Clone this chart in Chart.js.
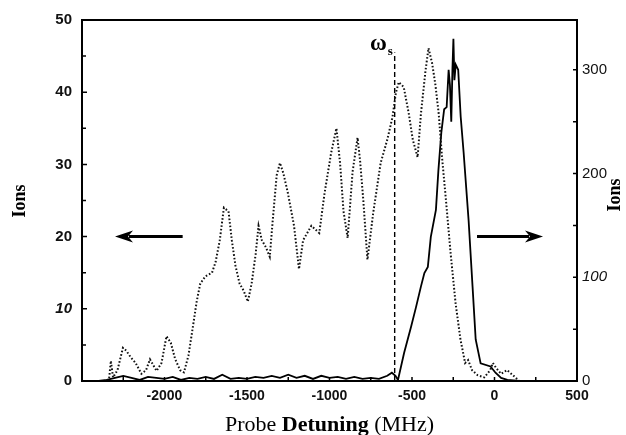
<!DOCTYPE html>
<html>
<head>
<meta charset="utf-8">
<script src="https://cdn.jsdelivr.net/npm/chart.js@4.4.1/dist/chart.umd.min.js"></script>
<style>
  html, body { margin: 0; padding: 0; background: #fff; }
</style>
</head>
<body>
<canvas id="ionChart" width="626" height="435"></canvas>
<script>
/* Ion signal vs probe detuning: dotted trace (left axis), solid trace (right axis) */
var dottedDetuning = [-2350,-2335,-2325,-2312,-2285,-2252,-2232,-2205,-2175,-2140,-2112,-2088,-2068,-2048,-2018,-1988,-1962,-1935,-1905,-1882,
    -1855,-1828,-1805,-1783,-1752,-1712,-1690,-1665,-1640,-1612,-1592,-1570,-1545,-1520,-1495,-1472,-1448,-1430,-1410,-1385,
    -1362,-1345,-1320,-1300,-1280,-1252,-1215,-1185,-1160,-1110,-1062,-1030,-990,-958,-936,-915,-890,-860,-830,-815,
    -795,-770,-735,-690,-650,-618,-598,-580,-550,-520,-495,-466,-446,-418,-400,-378,-358,-338,-318,-296,
    -266,-236,-206,-178,-160,-136,-102,-62,-26,-10,10,40,76,112,150];
var dottedIons = [0,0.5,2.8,0.5,1.5,4.6,4.2,3.3,2.5,1.0,1.5,3.0,2.2,1.4,2.5,6.2,5.3,3.0,1.5,1.2,
    3.5,7.5,11,13.5,14.5,15,16.5,19.5,24,23.5,19.5,16,13.5,12.5,11,13.5,17.5,21.5,19.5,18.5,
    17.2,22,28.5,30.2,28.8,26,21.5,15.5,19.5,21.5,20.5,26,31.6,35,30.2,23.5,19.8,29,33.7,30.6,
    25,16.8,23.3,30.2,33.4,36.6,39.9,41.4,40.7,37.1,33.4,31,37,43,46.1,44,41,37,31,25.5,
    17.7,10.8,5.7,2.5,2.9,1.5,0.8,0.5,1.5,2.5,1.8,1.0,1.5,0.8,0];

var solidDetuning = [-2400,-2350,-2300,-2250,-2200,-2150,-2100,-2050,-2000,-1950,-1900,-1850,-1800,-1750,-1700,-1650,-1600,-1550,-1500,-1450,
    -1400,-1350,-1300,-1250,-1200,-1150,-1100,-1050,-1000,-950,-900,-850,-800,-750,-700,-650,-622,-600,-585,-548,
    -506,-476,-446,-425,-404,-386,-355,-340,-322,-305,-290,-278,-270,-262,-255,-249,-243,-235,-220,-205,
    -187,-157,-133,-114,-84,-24,6,40,78,150,300,500];
var solidIons = [0,1,3,5,3,1,4,3,2,4,1,3,2,4,2,6,2,3,2,4,
    3,5,3,6,3,5,2,5,3,4,2,4,2,3,2,5,8,5,1,27,
    52,71,91,104,110,139,165,203,240,262,264,300,285,250,300,330,290,305,300,255,
    220,155,91,40,17,14,8,3,1,0,0,0];

var starkDetuning = [-605, -605];
var starkIons = [0, 45.5];

var xTicks = [-2000, -1500, -1000, -500, 0, 500];
var leftTicks = [0, 10, 20, 30, 40, 50];
var rightTicks = [0, 100, 200, 300];

function toPoints(xs, ys) {
    return xs.map(function(x, i) { return { x: x, y: ys[i] }; });
}
function fixTicks(list) {
    return function(scale) { scale.ticks = list.map(function(v) { return { value: v }; }); };
}

var decorations = {
    id: 'decorations',
    afterDraw: function(chart) {
        var c = chart.ctx, a = chart.chartArea;
        var sx = chart.scales.x, sy = chart.scales.y, sy1 = chart.scales.y1;
        c.save();
        c.strokeStyle = '#000';
        c.fillStyle = '#000';

        // frame
        c.lineWidth = 2;
        c.strokeRect(a.left, a.top, a.right - a.left, a.bottom - a.top);

        // inward tick marks
        c.lineWidth = 1.5;
        c.beginPath();
        for (var v = 5; v < 50; v += 5) {
            var py = sy.getPixelForValue(v);
            c.moveTo(a.left, py); c.lineTo(a.left + (v % 10 === 0 ? 5 : 4), py);
        }
        for (var w = 50; w < 348; w += 50) {
            var qy = sy1.getPixelForValue(w);
            c.moveTo(a.right, qy); c.lineTo(a.right - 4, qy);
        }
        for (var d = -2250; d < 500; d += 250) {
            var px = sx.getPixelForValue(d);
            c.moveTo(px, a.bottom); c.lineTo(px, a.bottom - 4);
        }
        c.stroke();

        // arrows pointing at each axis
        function arrow(from, to, val) {
            var x0 = sx.getPixelForValue(from), x1 = sx.getPixelForValue(to), y = sy.getPixelForValue(val);
            var dir = x1 > x0 ? 1 : -1;
            c.lineWidth = 3;
            c.beginPath(); c.moveTo(x0, y); c.lineTo(x1 - dir * 14, y); c.stroke();
            c.beginPath();
            c.moveTo(x1, y);
            c.lineTo(x1 - dir * 18, y - 6);
            c.lineTo(x1 - dir * 13, y);
            c.lineTo(x1 - dir * 18, y + 6);
            c.closePath(); c.fill();
        }
        arrow(-1890, -2300, 20);
        arrow(-106, 294, 20);

        // omega_s label
        var ox = sx.getPixelForValue(-755), oy = sy.getPixelForValue(45.8);
        c.font = 'bold 23px "Liberation Serif"';
        c.textAlign = 'left'; c.textBaseline = 'alphabetic';
        c.fillText('\u03c9', ox, oy);
        var ow = c.measureText('\u03c9').width;
        c.font = 'bold 13px "Liberation Serif"';
        c.fillText('s', ox + ow + 1, oy + 5);

        // axis titles
        c.font = 'bold 18px "Liberation Serif"';
        c.textAlign = 'center'; c.textBaseline = 'middle';
        c.save(); c.translate(20, 201); c.rotate(-Math.PI / 2); c.fillText('Ions', 0, 0); c.restore();
        c.save(); c.translate(615, 195); c.rotate(-Math.PI / 2); c.fillText('Ions', 0, 0); c.restore();

        var parts = [['Probe ', 'normal'], ['Detuning', 'bold'], [' (MHz)', 'normal']];
        var total = 0;
        parts.forEach(function(p) { c.font = p[1] + ' 22px "Liberation Serif"'; p.push(c.measureText(p[0]).width); total += p[2]; });
        var tx = (a.left + a.right) / 2 - total / 2;
        c.textAlign = 'left'; c.textBaseline = 'alphabetic';
        parts.forEach(function(p) { c.font = p[1] + ' 22px "Liberation Serif"'; c.fillText(p[0], tx, 431); tx += p[2]; });
        c.restore();
    }
};

new Chart(document.getElementById('ionChart').getContext('2d'), {
    type: 'line',
    data: {
        datasets: [
            { data: toPoints(dottedDetuning, dottedIons), yAxisID: 'y', borderColor: '#111', borderWidth: 2, borderDash: [1.6, 2], pointRadius: 0, tension: 0 },
            { data: toPoints(solidDetuning, solidIons), yAxisID: 'y1', borderColor: '#000', borderWidth: 1.8, pointRadius: 0, tension: 0 },
            { data: toPoints(starkDetuning, starkIons), yAxisID: 'y', borderColor: '#000', borderWidth: 1.4, borderDash: [5, 3], pointRadius: 0 }
        ]
    },
    options: {
        responsive: false,
        animation: false,
        layout: { padding: { top: 20, left: 0, right: 0, bottom: 0 } },
        plugins: { legend: { display: false }, tooltip: { enabled: false } },
        scales: {
            x: {
                type: 'linear', min: -2500, max: 500,
                afterBuildTicks: fixTicks(xTicks),
                afterFit: function(s) { s.height = 54; },
                grid: { display: false, drawTicks: false }, border: { display: false },
                ticks: { padding: 7, maxRotation: 0, color: '#111', font: { family: 'Liberation Sans', size: 14, weight: 'bold' },
                         callback: function(v) { return String(v); } }
            },
            y: {
                position: 'left', min: 0, max: 50,
                afterBuildTicks: fixTicks(leftTicks),
                afterFit: function(s) { s.width = 82; },
                grid: { display: false, drawTicks: false }, border: { display: false },
                ticks: { padding: 10, color: '#111', callback: function(v) { return String(v); },
                         font: function(ctx) { return { family: 'Liberation Sans', size: 15, weight: 'bold', style: ctx.tick && ctx.tick.value === 10 ? 'italic' : 'normal' }; } }
            },
            y1: {
                position: 'right', min: 0, max: 348,
                afterBuildTicks: fixTicks(rightTicks),
                afterFit: function(s) { s.width = 49; },
                grid: { display: false, drawTicks: false }, border: { display: false },
                ticks: { padding: 5, color: '#111', callback: function(v) { return String(v); },
                         font: function(ctx) { return { family: 'Liberation Sans', size: 15, style: ctx.tick && ctx.tick.value === 100 ? 'italic' : 'normal' }; } }
            }
        }
    },
    plugins: [decorations]
});
</script>
</body>
</html>
